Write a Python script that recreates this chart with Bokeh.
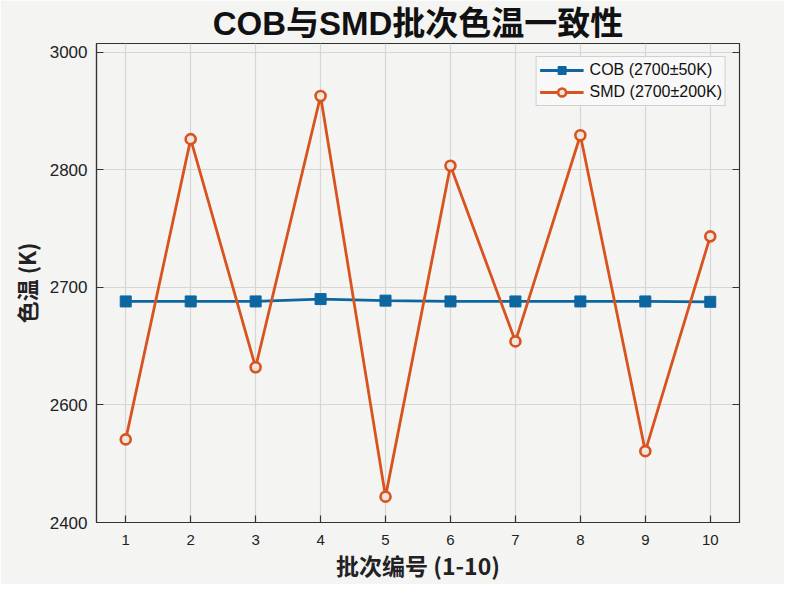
from bokeh.plotting import figure
from bokeh.models import FixedTicker, LinearAxis, Range1d, Legend, LegendItem, CustomJSTickFormatter
from bokeh.embed import file_html
from bokeh.resources import INLINE

batches = [1, 2, 3, 4, 5, 6, 7, 8, 9, 10]
cob = [2682, 2682, 2682, 2685, 2683, 2682, 2682, 2682, 2682, 2681.5]
smd = [2506, 2889, 2598, 2944, 2433, 2855, 2631, 2894, 2491, 2765]
y_ticks = [2400, 2550, 2700, 2850, 3000]
y_tick_labels = ["2400", "2600", "2700", "2800", "3000"]
cob_label = "COB (2700±50K)"
smd_label = "SMD (2700±200K)"
title_text = "COB与SMD批次色温一致性"

BG = "#f4f4f3"
BLUE = "#0d66a0"
ORANGE = "#d9531e"
CJK = "Noto Sans CJK SC"
LAT = "Liberation Sans"

W, H = 784, 584
ML, MR, MT, MB = 96, 45, 42, 61

p = figure(width=W, height=H, output_backend="svg", toolbar_location=None,
           x_range=Range1d(0.55, 10.45), y_range=Range1d(2400, 3011),
           min_border_left=ML, min_border_right=MR, min_border_top=MT, min_border_bottom=MB)
p.background_fill_color = BG
p.border_fill_color = BG
p.outline_line_color = "#333333"
p.outline_line_width = 1.2

p.title.text = title_text
p.title.text_font = "'Liberation Sans', 'Noto Sans CJK SC'"
p.title.text_font_size = "33px"
p.title.text_font_style = "bold"
p.title.align = "center"
p.title.text_color = "#111111"
p.title.offset = 0
p.title.standoff = 4

p.xaxis.ticker = FixedTicker(ticks=batches)
p.yaxis.ticker = FixedTicker(ticks=y_ticks)
p.yaxis.major_label_overrides = {t: l for t, l in zip(y_ticks, y_tick_labels)}

for ax in (p.xaxis[0], p.yaxis[0]):
    ax.major_tick_in = 7
    ax.major_tick_out = 0
    ax.minor_tick_in = 0
    ax.minor_tick_out = 0
    ax.axis_line_color = "#333333"
    ax.axis_line_width = 1.2
    ax.major_tick_line_color = "#333333"
    ax.major_tick_line_width = 1.2
    ax.major_label_text_font = LAT
    ax.major_label_text_color = "#222222"
    ax.axis_label_text_font = CJK
    ax.axis_label_text_font_style = "bold"
    ax.axis_label_text_color = "#222222"

p.xaxis.major_label_text_font_size = "15px"
p.yaxis.major_label_text_font_size = "17px"
p.xaxis.major_label_standoff = 12
p.yaxis.major_label_standoff = 9
p.xaxis.axis_label = "批次编号 (1-10)"
p.yaxis.axis_label = "色温 (K)"
p.xaxis.axis_label_text_font_size = "23px"
p.yaxis.axis_label_text_font_size = "22px"
p.xaxis.axis_label_standoff = 0
p.yaxis.axis_label_standoff = 5

right = LinearAxis(ticker=FixedTicker(ticks=y_ticks),
                   formatter=CustomJSTickFormatter(code="return ''"))
right.major_tick_in = 7
right.major_tick_out = 0
right.minor_tick_in = 0
right.minor_tick_out = 0
right.axis_line_color = "#333333"
right.major_tick_line_color = "#333333"
right.major_tick_line_width = 1.2
right.major_label_text_font_size = "1px"
p.add_layout(right, "right")

p.xgrid.grid_line_color = "#d6d6d6"
p.ygrid.grid_line_color = "#d6d6d6"
p.xgrid.grid_line_width = 1.2
p.ygrid.grid_line_width = 1.2

l1 = p.line(batches, cob, line_color=BLUE, line_width=2.8)
m1 = p.scatter(batches, cob, marker="square", size=11, fill_color=BLUE, line_color=BLUE)
l2 = p.line(batches, smd, line_color=ORANGE, line_width=2.8)
m2 = p.scatter(batches, smd, marker="circle", size=10, fill_color="#efe6e0",
               line_color=ORANGE, line_width=2.6)

legend = Legend(items=[LegendItem(label=cob_label, renderers=[l1, m1]),
                       LegendItem(label=smd_label, renderers=[l2, m2])],
                location="top_right")
legend.label_text_font = LAT
legend.label_text_font_size = "16px"
legend.label_text_color = "#111111"
legend.glyph_width = 44
legend.glyph_height = 20
legend.label_height = 20
legend.label_standoff = 6
legend.spacing = 2
legend.padding = 3
legend.margin = 13
legend.border_line_color = "#aaaaaa"
legend.background_fill_color = "#f8f8f8"
legend.background_fill_alpha = 1.0
p.add_layout(legend)

open("out.html", "w").write(file_html(p, INLINE))
